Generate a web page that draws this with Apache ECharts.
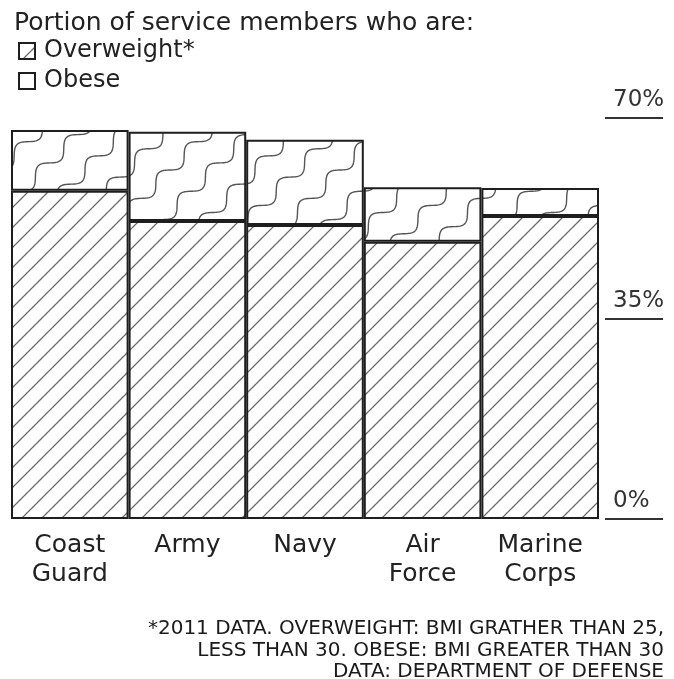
<!DOCTYPE html>
<html>
<head>
<meta charset="utf-8">
<script src="https://cdn.jsdelivr.net/npm/echarts@6/dist/echarts.min.js"></script>
<style>
html,body{margin:0;padding:0;background:#fff;}
#chart{width:674px;height:679px;}
</style>
</head>
<body>
<div id="chart"></div>
<script>
// ---- data ----
const categories = ['Coast\nGuard', 'Army', 'Navy', 'Air\nForce', 'Marine\nCorps'];
const overweight = [57.3, 52.0, 51.3, 48.4, 52.9];
const obese = [10.6, 15.6, 14.9, 9.5, 4.9];
const seriesNames = ['Overweight*', 'Obese'];
const yTicks = [0, 35, 70];
const titleText = 'Portion of service members who are:';
const footnoteLines = [
  '*2011 DATA. OVERWEIGHT: BMI GRATHER THAN 25,',
  'LESS THAN 30. OBESE: BMI GREATER THAN 30',
  'DATA: DEPARTMENT OF DEFENSE'
];

// ---- hatch patterns ----
function makePattern(kind) {
  const a = kind === 'wave' ? 170 : 20;
  const c = document.createElement('canvas');
  c.width = a; c.height = a;
  const ctx = c.getContext('2d');
  ctx.fillStyle = '#ffffff';
  ctx.fillRect(0, 0, a, a);
  const half = a / Math.SQRT2;
  const d = kind === 'wave' ? half / 4 : half;
  const lambda = half / 3;
  const A = kind === 'wave' ? 6 : 0;
  ctx.save();
  ctx.rotate(-Math.PI / 4);
  ctx.strokeStyle = kind === 'wave' ? '#555' : '#6a6a6a';
  ctx.lineWidth = kind === 'wave' ? 1.4 : 1.3;
  for (let k = -14; k <= 28; k++) {
    const y0 = k * d;
    ctx.beginPath();
    for (let x = -2 * a; x <= 2 * a; x += 1) {
      const y = y0 + A * Math.sin(2 * Math.PI * x / lambda);
      if (x === -2 * a) ctx.moveTo(x, y); else ctx.lineTo(x, y);
    }
    ctx.stroke();
  }
  ctx.restore();
  return c;
}
const diagPattern = { image: makePattern('diag'), repeat: 'repeat' };
const wavePattern = { image: makePattern('wave'), repeat: 'repeat' };

const FONT = 'DejaVu Sans';
const footnoteTops = [619, 641, 662];
const chart = echarts.init(document.getElementById('chart'));
chart.setOption({
  animation: false,
  backgroundColor: '#ffffff',
  title: {
    text: titleText,
    left: 9, top: 6,
    textStyle: { fontFamily: FONT, fontSize: 25, fontWeight: 'normal', color: '#222' }
  },
  legend: {
    data: seriesNames,
    orient: 'vertical',
    left: 13, top: 32,
    icon: 'rect',
    itemWidth: 16, itemHeight: 16,
    itemGap: 2,
    selectedMode: false,
    textStyle: { fontFamily: FONT, fontSize: 24, color: '#222', lineHeight: 28, padding: [0, 0, 0, 4] }
  },
  grid: [
    { left: 11, right: 75, top: 118, bottom: 160 },
    { left: 605, right: 11, top: 118, bottom: 160 }
  ],
  xAxis: [
    {
      type: 'category', gridIndex: 0, data: categories,
      axisLine: { show: false }, axisTick: { show: false },
      axisLabel: { fontFamily: FONT, fontSize: 25, color: '#222', lineHeight: 29, margin: 12, interval: 0 }
    },
    { type: 'value', gridIndex: 1, show: false, min: 0, max: 1 }
  ],
  yAxis: [
    { type: 'value', gridIndex: 0, min: 0, max: 70, show: false },
    {
      type: 'value', gridIndex: 1, min: yTicks[0], max: yTicks[yTicks.length - 1], interval: 35,
      axisLine: { show: false }, axisTick: { show: false },
      splitLine: { show: true, lineStyle: { color: '#333', width: 2 } },
      axisLabel: {
        inside: true, margin: 8, align: 'left', verticalAlign: 'bottom',
        padding: [0, 0, 6, 0],
        fontFamily: FONT, fontSize: 23, color: '#333',
        formatter: v => v + '%'
      }
    }
  ],
  series: [
    {
      name: seriesNames[0], type: 'bar', stack: 'total', xAxisIndex: 0, yAxisIndex: 0,
      data: overweight, barWidth: '100%', barCategoryGap: '0%',
      itemStyle: { color: diagPattern, borderColor: '#1e1e1e', borderWidth: 2 }
    },
    {
      name: seriesNames[1], type: 'bar', stack: 'total', xAxisIndex: 0, yAxisIndex: 0,
      data: obese, barWidth: '100%', barCategoryGap: '0%',
      itemStyle: { color: wavePattern, borderColor: '#1e1e1e', borderWidth: 2 }
    },
    { type: 'line', xAxisIndex: 1, yAxisIndex: 1, data: [], silent: true }
  ],
  graphic: footnoteLines.map((t, i) => ({
    type: 'text', right: 10, top: footnoteTops[i],
    style: {
      text: t,
      fontFamily: FONT, fontSize: 20,
      fill: '#1a1a1a'
    }
  }))
});
</script>
</body>
</html>
